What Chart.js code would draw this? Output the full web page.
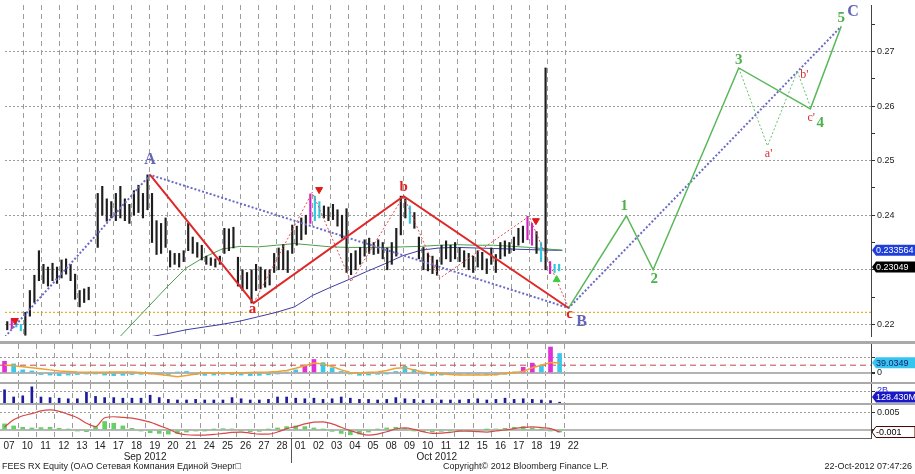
<!DOCTYPE html>
<html lang="ru">
<head>
<meta charset="UTF-8">
<title>FEES RX Equity</title>
<script src="https://cdnjs.cloudflare.com/ajax/libs/chart.js/4.4.1/chart.umd.min.js"></script>
<style>
    body { margin: 0; background: #fff; font-family: 'Liberation Sans', Arial, sans-serif; }
    #wrap { position: relative; width: 915px; height: 474px; overflow: hidden; background: #fff; }
    canvas { position: absolute; left: 0; }
    .sep { position: absolute; left: 0; width: 915px; background: #a9a9a9; }
    .foot { position: absolute; top: 461px; font-size: 9px; color: #222; white-space: nowrap; }
</style>
</head>
<body>
<div id="wrap">
    <canvas id="main" width="915" height="341" style="top:0"></canvas>
    <div class="sep" style="top:341px;height:3px"></div>
    <canvas id="osc" width="915" height="38" style="top:344px"></canvas>
    <div class="sep" style="top:382px;height:2px"></div>
    <canvas id="vol" width="915" height="19" style="top:384px"></canvas>
    <div class="sep" style="top:403px;height:2px"></div>
    <canvas id="macd" width="915" height="58" style="top:405px"></canvas>
    <div class="foot" style="left:2px">FEES RX Equity (OAO Сетевая Компания Единой Энерг□</div>
    <div class="foot" style="left:443px">Copyright© 2012 Bloomberg Finance L.P.</div>
    <div class="foot" style="right:3px">22-Oct-2012 07:47:26</div>
</div>

<script>
    // trading days on the axis (one unit = one day)
    const dayLabels = ['07','10','11','12','13','14','17','18','19','20','21','24','25','26','27','28',
                       '01','02','03','04','05','08','09','10','11','12','15','16','17','18','19','22'];
    const monthLabels = ['Sep 2012', 'Oct 2012'];
    const monthCenters = [7.97, 24.0];
    const priceTicks = [0.22,0.225,0.23,0.235,0.24,0.245,0.25,0.255,0.26,0.265,0.27,0.275];

    // intraday price range, 4 bars per day
    const priceHigh = [
        0.2205,0.2211,0.2208,0.2200, 0.2222,0.2262,0.2290,0.2335, 0.2310,0.2305,0.2312,0.2305,
        0.2318,0.2320,0.2310,0.2292, 0.2262,0.2265,0.2268,null,   0.2440,0.2453,0.2430,0.2425,
        0.2440,0.2453,0.2430,0.2420, 0.2445,0.2455,0.2440,0.2474, 0.2440,0.2390,0.2385,0.2395,
        0.2335,0.2330,0.2330,0.2335, 0.2385,0.2360,0.2350,0.2345, 0.2325,0.2322,0.2320,0.2325,
        0.2376,0.2375,0.2378,0.2323, 0.2300,0.2295,0.2300,0.2310, 0.2305,0.2300,0.2300,0.2330,
        0.2340,0.2346,0.2335,0.2382, 0.2380,0.2395,0.2400,0.2439, 0.2435,0.2425,0.2417,0.2415,
        0.2420,0.2410,0.2400,0.2412, 0.2330,0.2335,0.2341,0.2355, 0.2358,0.2350,0.2355,0.2350,
        0.2340,0.2350,0.2376,0.2435, 0.2430,0.2417,0.2405,0.2360, 0.2341,0.2330,0.2325,0.2318,
        0.2345,0.2353,0.2345,0.2350, 0.2340,0.2335,0.2330,0.2325, 0.2335,0.2332,0.2320,0.2340,
        0.2328,0.2350,0.2353,0.2350, 0.2360,0.2376,0.2380,0.2398, 0.2385,0.2370,0.2350,0.2670,
        0.2315,0.2310,0.2310
    ];
    const priceLow = [
        0.2190,0.2192,0.2195,0.2188, 0.2180,0.2215,0.2240,0.2280, 0.2275,0.2270,0.2280,0.2275,
        0.2285,0.2292,0.2280,0.2246, 0.2232,0.2240,0.2245,null,   0.2341,0.2400,0.2389,0.2395,
        0.2390,0.2395,0.2390,0.2385, 0.2400,0.2405,0.2395,0.2410, 0.2350,0.2328,0.2330,0.2341,
        0.2305,0.2310,0.2305,0.2315, 0.2335,0.2330,0.2323,0.2318, 0.2310,0.2308,0.2305,0.2310,
        0.2330,0.2335,0.2340,0.2270, 0.2262,0.2265,0.2239,0.2262, 0.2265,0.2268,0.2272,0.2295,
        0.2300,0.2300,0.2295,0.2330, 0.2345,0.2355,0.2365,0.2385, 0.2390,0.2395,0.2395,0.2390,
        0.2392,0.2380,0.2358,0.2295, 0.2291,0.2300,0.2310,0.2325, 0.2330,0.2328,0.2330,0.2320,
        0.2300,0.2310,0.2325,0.2364, 0.2395,0.2385,0.2376,0.2320, 0.2300,0.2298,0.2293,0.2290,
        0.2310,0.2320,0.2315,0.2320, 0.2315,0.2305,0.2300,0.2295, 0.2305,0.2300,0.2293,0.2310,
        0.2295,0.2320,0.2325,0.2330, 0.2335,0.2345,0.2350,0.2355, 0.2345,0.2330,0.2315,0.2300,
        0.2293,0.2295,0.2298
    ];
    const lastClose = 0.23049;

    // moving averages, read at day boundaries
    const maDays = [6,7,8,9,10,11,12,13,14,15,16,17,18,19,20,21,22,23,24,25,26,27,28,29,30,30.8];
    const maFast = [0.2165,0.2200,0.2235,0.2270,0.2303,0.2323,0.2338,0.2343,0.2342,0.2345,0.2348,0.2345,0.2342,
                    0.2341,0.2341,0.2341,0.2342,0.2343,0.2345,0.2346,0.2345,0.2345,0.2343,0.2341,0.2338,0.2336];
    const maSlow = [null,null,0.2177,0.2183,0.2190,0.2195,0.2200,0.2206,0.2214,0.2222,0.2232,0.2253,0.2268,
                    0.2282,0.2297,0.2311,0.2326,0.2336,0.2340,0.2341,0.2340,0.2339,0.2338,0.2337,0.2336,0.233564];
    const supportLevel = 0.2222;

    // wave count pivots
    const bigWaveX = [0, 8.02, 31.15, 46.21];
    const bigWaveY = [0.2177, 0.2474, 0.2230, 0.2746];
    const abcX = [8.02, 13.74, 22.03, 31.15];
    const abcY = [0.2474, 0.2239, 0.2435, 0.2230];
    const subX = [13.74, 16.98, 19.12, 22.03, 24.01, 28.96, 31.15];
    const subY = [0.2239, 0.2442, 0.2278, 0.2435, 0.2284, 0.2398, 0.2230];
    const impulseX = [31.15, 34.34, 35.82, 40.55, 44.51, 46.21];
    const impulseY = [0.2230, 0.2399, 0.2300, 0.2670, 0.2595, 0.2746];
    const corrX = [40.55, 42.14, 43.79, 44.45];
    const corrY = [0.2670, 0.2527, 0.2664, 0.2604];
    const sellX = [0.55, 17.36, 29.34];
    const sellY = [0.2207, 0.2447, 0.2390];
    const buyX = [30.49];
    const buyY = [0.2282];

    // wave labels
    const bigWaveText = ['A', 'B', 'C'];
    const bigWaveTextX = [8.02, 31.87, 46.87];
    const bigWaveTextY = [0.2501, 0.2205, 0.2773];
    const abcText = ['a', 'b', 'c'];
    const abcTextX = [13.68, 22.03, 31.2];
    const abcTextY = [0.2228, 0.2452, 0.2219];
    const impulseText = ['1', '2', '3', '4', '5'];
    const impulseTextX = [34.23, 35.88, 40.55, 45.05, 46.21];
    const impulseTextY = [0.2417, 0.2282, 0.2684, 0.2568, 0.2762];
    const corrText = ["a'", "b'", "c'"];
    const corrTextX = [42.2, 44.18, 44.56];
    const corrTextY = [0.2513, 0.2657, 0.2579];

    // lower panels, 2 values per day
    const oscHist = [45,35,12,8,-6,-8,-10,-8,-6,-4, -3,-8,-10,-9,-6,-5,-4,-3,-6,4,
                     6,-6,-9,-8,-5,-6,-8,-10,-9,-7, -4,4,12,30,52,40,20,6,-4,-9,
                     -8,-5,-3,6,26,14,-4,-9,-8,-6, -5,-3,-5,-6,-8,-5,4,22,38,30, 100,75];
    const oscLine = [31,28,24,20,16,12,8,6,4,3, 3,3,4,4,4,2,-2,-6,-10,-14,
                     -10,-4,0,0,0,0,1,2,3,4, 6,10,18,28,38,35,25,12,2,0,
                     3,4,10,18,20,12,4,0,-3,-6, -8,-8,-8,-8,-6,-2,2,6,20,30, 40,39.0349];
    const oscLevel = 30;
    const volumeB = [2.2,1.0,1.2,2.7,1.0,0.9,0.8,0.7,0.7,1.8, 1.1,0.9,0.9,0.8,0.8,0.8,1.3,0.9,0.6,0.5,
                     0.5,0.6,0.5,0.5,0.5,0.9,0.7,0.5,0.5,0.6, 1.0,1.0,0.8,0.7,0.8,0.6,0.7,1.0,0.8,0.6,
                     0.6,0.5,0.6,0.9,0.7,0.6,0.5,0.6,0.5,0.5, 0.5,0.6,0.7,0.5,0.6,0.8,0.6,0.7,0.6,0.5, 0.4,0.12843];
    const macdSignal = [0.0009,0.0030,0.0042,0.0048,0.0056,0.0059,0.0055,0.0046,0.0036,0.0020,
                        0.0010,0.0036,0.0039,0.0037,0.0035,0.0030,0.0023,0.0013,0.0003,-0.0009,
                        -0.0014,-0.0015,-0.0015,-0.0013,-0.0010,-0.0007,-0.0006,-0.0009,-0.0012,-0.0012,
                        -0.0006,0.0004,0.0010,0.0018,0.0023,0.0024,0.0018,0.0008,-0.0002,-0.0010,
                        -0.0015,-0.0012,-0.0005,0.0003,0.0006,0.0002,-0.0005,-0.0010,-0.0009,-0.0007,
                        -0.0003,-0.0003,-0.0005,-0.0006,-0.0003,0.0000,0.0004,0.0008,0.0009,0.0007,
                        0.0004,-0.0006];
    const macdHist = [0.0018,0.0012,0.0008,0.0006,0.0007,0.0008,0.0005,0.0002,-0.0003,-0.0005,
                      0.0010,0.0025,0.0020,0.0012,0.0005,-0.0003,-0.0008,-0.0010,-0.0012,-0.0010,
                      -0.0006,-0.0003,-0.0002,0.0002,0.0004,0.0003,-0.0002,-0.0005,-0.0004,0.0002,
                      0.0006,0.0010,0.0012,0.0010,0.0006,0.0002,-0.0004,-0.0010,-0.0014,-0.0012,
                      -0.0006,0.0002,0.0006,0.0008,0.0005,-0.0002,-0.0005,-0.0006,-0.0004,-0.0002,
                      -0.0001,-0.0002,-0.0003,0.0001,0.0003,0.0005,0.0008,0.0010,0.0006,0.0002,
                      -0.0003,-0.0006];

    // ---- styling / helpers ----
    const X_MAX = 47.86;
    const GRID = '#9c9c9c';
    const magentaBars = [1, 67, 115, 116, 120];
    const cyanBars = [2, 3, 68, 69, 89, 118, 121, 122];
    const magentaHist = [0, 33, 34, 57, 58, 60];

    Chart.defaults.font.family = "'Liberation Sans', Arial, sans-serif";
    Chart.defaults.font.size = 9;
    Chart.defaults.color = '#222';

    const pts = (xs, ys) => xs.map((x, i) => ({ x: x, y: ys[i] }));
    const quarterX = i => (i + 0.5) / 4;
    const halfX = i => (i + 0.5) / 2;
    const halfPts = arr => arr.map((v, i) => ({ x: halfX(i), y: v }));

    function noPad(ax) { ax.paddingTop = 0; ax.paddingBottom = 0; ax.paddingLeft = 0; ax.paddingRight = 0; }

    // bar charts default to offset x axes; switch that off so day n sits at n * width / X_MAX
    function gridX(showBorder) {
        return {
            type: 'linear', axis: 'x', min: 0, max: X_MAX, offset: false,
            afterBuildTicks: ax => { ax.ticks = dayLabels.slice(1).map((d, i) => ({ value: i + 1 })); },
            ticks: { display: false },
            grid: { color: GRID, drawTicks: false, offset: false },
            border: { display: showBorder, color: '#666', dash: [5, 4] },
            afterFit: ax => { ax.height = 0; noPad(ax); }
        };
    }

    function rightY(min, max, tickVals, label, gridColor, dashFor, labelColor) {
        return {
            type: 'linear', position: 'right', min: min, max: max,
            afterBuildTicks: ax => { ax.ticks = tickVals.map(v => ({ value: v })); },
            ticks: { callback: label, padding: 2, font: { size: 9 }, color: labelColor || '#222' },
            grid: { color: gridColor, tickColor: '#333', tickLength: 4, lineWidth: c => (c.tick && c.tick.value === 0) ? 2 : 1 },
            border: { display: true, color: '#444', dash: dashFor },
            afterFit: ax => { ax.width = 44; noPad(ax); }
        };
    }

    // pointer-shaped value tags on the right axis
    function tagPlugin(tags) {
        return {
            id: 'tags',
            afterDraw(chart) {
                const ctx = chart.ctx;
                const x0 = chart.chartArea.right + 1;
                tags.forEach(t => {
                    let y = chart.scales.y.getPixelForValue(t.value);
                    y = Math.max(6, Math.min(chart.height - 6, y));
                    const w = 43, h = 11;
                    ctx.save();
                    ctx.beginPath();
                    ctx.moveTo(x0, y);
                    ctx.lineTo(x0 + 4, y - h / 2);
                    ctx.lineTo(x0 + w, y - h / 2);
                    ctx.lineTo(x0 + w, y + h / 2);
                    ctx.lineTo(x0 + 4, y + h / 2);
                    ctx.closePath();
                    ctx.fillStyle = t.bg;
                    ctx.fill();
                    if (t.stroke) { ctx.strokeStyle = t.stroke; ctx.lineWidth = 1; ctx.stroke(); }
                    ctx.fillStyle = t.fg;
                    ctx.font = "9px 'Liberation Sans', Arial, sans-serif";
                    ctx.textBaseline = 'middle';
                    ctx.fillText(t.text, x0 + 4, y + 0.5);
                    ctx.restore();
                });
            }
        };
    }

    const waveTextPlugin = {
        id: 'waveText',
        afterDatasetsDraw(chart) {
            const { ctx, scales } = chart;
            const groups = [
                { text: bigWaveText, x: bigWaveTextX, y: bigWaveTextY, color: '#6464b8', font: "bold 16px 'Liberation Serif', serif" },
                { text: abcText, x: abcTextX, y: abcTextY, color: '#e02020', font: "bold 15px 'Liberation Serif', serif" },
                { text: impulseText, x: impulseTextX, y: impulseTextY, color: '#4cb04c', font: "bold 15px 'Liberation Serif', serif" },
                { text: corrText, x: corrTextX, y: corrTextY, color: '#d83030', font: "12px 'Liberation Serif', serif" }
            ];
            groups.forEach(g => {
                ctx.save();
                ctx.font = g.font;
                ctx.fillStyle = g.color;
                ctx.textAlign = 'center';
                ctx.textBaseline = 'middle';
                g.text.forEach((t, i) => {
                    ctx.fillText(t, scales.x.getPixelForValue(g.x[i]), scales.y.getPixelForValue(g.y[i]));
                });
                ctx.restore();
            });
        }
    };

    const baseOptions = {
        responsive: false,
        animation: false,
        devicePixelRatio: 1,
        events: [],
        layout: { padding: 0 },
        plugins: { legend: { display: false }, tooltip: { enabled: false } }
    };

    // ---- main price panel ----
    const priceBars = [];
    priceHigh.forEach((h, i) => {
        if (h !== null) priceBars.push({ x: quarterX(i), y: [priceLow[i], h], q: i });
    });

    new Chart(document.getElementById('main'), {
        type: 'bar',
        data: {
            datasets: [
                { type: 'line', data: pts(sellX, sellY), showLine: false, pointStyle: 'triangle', rotation: 180,
                  pointRadius: 4, backgroundColor: '#e01818', borderColor: '#e01818', order: 0 },
                { type: 'line', data: pts(buyX, buyY), showLine: false, pointStyle: 'triangle',
                  pointRadius: 4, backgroundColor: '#3ccc3c', borderColor: '#3ccc3c', order: 0 },
                { type: 'line', data: pts(abcX, abcY), borderColor: '#e02828', borderWidth: 2, pointRadius: 0, order: 1 },
                { type: 'line', data: pts(subX, subY), borderColor: '#e05050', borderWidth: 1, borderDash: [2, 2], pointRadius: 0, order: 2 },
                { type: 'line', data: pts(impulseX, impulseY), borderColor: '#58b858', borderWidth: 1.5, pointRadius: 0, order: 1 },
                { type: 'line', data: pts(corrX, corrY), borderColor: '#6cbf6c', borderWidth: 1, borderDash: [2, 2], pointRadius: 0, order: 2 },
                { type: 'line', data: pts(bigWaveX, bigWaveY), borderColor: '#6a6ac8', borderWidth: 2, borderDash: [2, 2], pointRadius: 0, order: 3 },
                { type: 'bar', data: priceBars, barThickness: 1.5, order: 5,
                  backgroundColor: c => c.raw && magentaBars.includes(c.raw.q) ? '#d020c0'
                                      : (c.raw && cyanBars.includes(c.raw.q) ? '#30c8e0' : '#1e1e1e') },
                { type: 'line', data: pts(maDays, maFast), borderColor: '#4a9e4a', borderWidth: 1, pointRadius: 0, order: 6 },
                { type: 'line', data: pts(maDays, maSlow), borderColor: '#3c3ca8', borderWidth: 1, pointRadius: 0, order: 6 },
                { type: 'line', data: [{ x: 0, y: supportLevel }, { x: X_MAX, y: supportLevel }],
                  borderColor: '#d9a400', borderWidth: 1, borderDash: [2, 2], pointRadius: 0, order: 7 }
            ]
        },
        options: Object.assign({}, baseOptions, {
            scales: {
                x: gridX(false),
                y: rightY(0.21786, 0.27854, priceTicks,
                    v => Math.abs(v * 100 - Math.round(v * 100)) < 1e-6 ? v.toFixed(2) : '',
                    c => (c.tick && Math.abs(c.tick.value * 100 - Math.round(c.tick.value * 100)) < 1e-6) ? GRID : 'rgba(0,0,0,0)',
                    [2, 2])
            }
        }),
        plugins: [waveTextPlugin, tagPlugin([
            { value: maSlow[maSlow.length - 1], text: String(maSlow[maSlow.length - 1]), bg: '#1f3fd8', fg: '#fff' },
            { value: lastClose, text: String(lastClose), bg: '#000', fg: '#fff' }
        ])]
    });

    // ---- oscillator panel ----
    new Chart(document.getElementById('osc'), {
        type: 'bar',
        data: {
            datasets: [
                { type: 'line', data: halfPts(oscLine), borderColor: '#f0a030', borderWidth: 1.5, pointRadius: 0, order: 0 },
                { type: 'line', data: [{ x: 0, y: oscLevel }, { x: X_MAX, y: oscLevel }], borderColor: '#c04848',
                  borderWidth: 1, borderDash: [6, 4], pointRadius: 0, order: 2 },
                { type: 'bar', data: halfPts(oscHist), barThickness: 4, order: 1,
                  backgroundColor: c => magentaHist.includes(c.dataIndex) ? '#e030d8' : '#3cc8ec' }
            ]
        },
        options: Object.assign({}, baseOptions, {
            scales: {
                x: gridX(false),
                y: rightY(-34.6, 111.5, [0, 60], v => v === 0 ? '0' : '',
                    c => (c.tick && c.tick.value === 0) ? '#b4b4b4' : GRID,
                    c => (c.tick && c.tick.value === 0) ? [] : [2, 2])
            }
        }),
        plugins: [tagPlugin([
            { value: oscLine[oscLine.length - 1], text: String(oscLine[oscLine.length - 1]), bg: '#35c6f0', fg: '#1a1a6a' }
        ])]
    });

    // ---- volume panel ----
    new Chart(document.getElementById('vol'), {
        type: 'bar',
        data: {
            datasets: [
                { type: 'bar', data: halfPts(volumeB), barThickness: 2, backgroundColor: '#1c1c9c' }
            ]
        },
        options: Object.assign({}, baseOptions, {
            scales: {
                x: gridX(false),
                y: rightY(0, 3.17, [2], v => v + 'B', GRID, [2, 2], '#2a2ad0')
            }
        }),
        plugins: [tagPlugin([
            { value: volumeB[volumeB.length - 1], text: (volumeB[volumeB.length - 1] * 1000).toFixed(3) + 'M', bg: '#1818c8', fg: '#fff' }
        ])]
    });

    // ---- MACD panel with the date axis ----
    const monthSeparator = {
        id: 'monthSep',
        afterDraw(chart) {
            const x = Math.round(chart.scales.x.getPixelForValue(16)) + 0.5;
            const ctx = chart.ctx;
            ctx.save();
            ctx.strokeStyle = '#555';
            ctx.lineWidth = 1;
            ctx.beginPath();
            ctx.moveTo(x, chart.chartArea.bottom);
            ctx.lineTo(x, chart.height);
            ctx.stroke();
            ctx.restore();
        }
    };

    new Chart(document.getElementById('macd'), {
        type: 'bar',
        data: {
            datasets: [
                { type: 'line', data: halfPts(macdSignal), borderColor: '#d84848', borderWidth: 1.2, pointRadius: 0,
                  cubicInterpolationMode: 'monotone', order: 0 },
                { type: 'bar', data: halfPts(macdHist), barThickness: 4,
                  backgroundColor: '#66d066', order: 1 }
            ]
        },
        options: Object.assign({}, baseOptions, {
            scales: {
                x: gridX(true),
                xd: {
                    type: 'linear', axis: 'x', position: 'bottom', weight: 1, min: 0, max: X_MAX, offset: false,
                    afterBuildTicks: ax => { ax.ticks = dayLabels.map((d, i) => ({ value: i + 0.5 })); },
                    ticks: { callback: (v, i) => dayLabels[i], autoSkip: false, maxRotation: 0,
                             padding: 2, font: { size: 10 }, color: '#222' },
                    grid: { display: false, drawTicks: false, tickLength: 0, offset: false },
                    border: { display: false },
                    afterFit: ax => { ax.height = 13; noPad(ax); }
                },
                xm: {
                    type: 'linear', axis: 'x', position: 'bottom', weight: 2, min: 0, max: X_MAX, offset: false,
                    afterBuildTicks: ax => { ax.ticks = monthCenters.map(v => ({ value: v })); },
                    ticks: { callback: (v, i) => monthLabels[i], autoSkip: false, maxRotation: 0,
                             padding: 0, font: { size: 10 }, color: '#222' },
                    grid: { display: false, drawTicks: false, tickLength: 0, offset: false },
                    border: { display: false },
                    afterFit: ax => { ax.height = 12; noPad(ax); }
                },
                y: rightY(-0.00235, 0.00735, [0, 0.005], v => v === 0 ? '' : '0.005',
                    c => (c.tick && c.tick.value === 0) ? '#b8b8b8' : GRID,
                    c => (c.tick && c.tick.value === 0) ? [] : [2, 2])
            }
        }),
        plugins: [monthSeparator, tagPlugin([
            { value: macdSignal[macdSignal.length - 1], text: macdSignal[macdSignal.length - 1].toFixed(3),
              bg: '#fff', fg: '#000', stroke: '#400' }
        ])]
    });
</script>
</body>
</html>
